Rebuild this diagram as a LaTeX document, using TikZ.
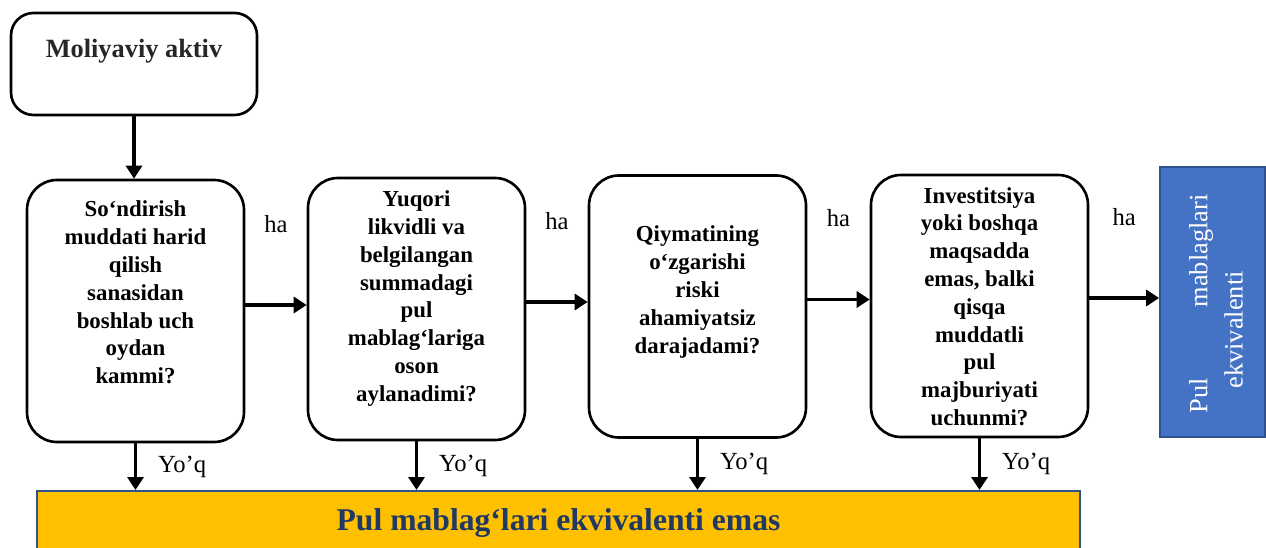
\documentclass[tikz,border=0pt]{standalone}
\usepackage{fontspec}
\setmainfont{Liberation Serif}
\usetikzlibrary{arrows.meta,positioning,calc}

\definecolor{boxblue}{HTML}{4472C4}
\definecolor{edgeblue}{HTML}{2F528F}
\definecolor{gold}{HTML}{FFC000}
\definecolor{navy}{HTML}{1F3864}

\tikzset{
    qbox/.style={draw, line width=1.5pt, rounded corners=0.6cm,
        minimum width=4.34cm, minimum height=5.24cm},
    qtext/.style={align=center, font=\fontsize{13}{15.8}\selectfont\bfseries},
    flow/.style={line width=2pt, -{Triangle[length=0.26cm,width=0.32cm]}},
    answer/.style={font=\fontsize{14}{16}\selectfont}
}

\begin{document}
\begin{tikzpicture}
    \useasboundingbox (0,0) rectangle (25.32,10.94);

    % Start box
    \node [draw, line width=1.5pt, rounded corners=0.45cm,
        minimum width=4.92cm, minimum height=2.04cm] (aktiv) at (2.68,9.66) {};
    \node [font=\fontsize{15}{18}\selectfont\bfseries, text=black!85]
        (aktivtxt) at (2.68,9.92) {Moliyaviy aktiv};

    % Questions
    \node [qbox] (q1) at (2.71,4.72) {};
    \node [qtext] (q1txt) at (2.71,5.09)
        {So‘ndirish\\muddati harid\\qilish\\sanasidan\\boshlab uch\\oydan\\kammi?};
    \node [qbox] (q2) at (8.33,4.76) {};
    \node [qtext] (q2txt) at (8.33,4.97)
        {Yuqori\\likvidli va\\belgilangan\\summadagi\\pul\\mablag‘lariga\\oson\\aylanadimi?};
    \node [qbox] (q3) at (13.95,4.81) {};
    \node [qtext] (q3txt) at (13.95,5.10)
        {Qiymatining\\o‘zgarishi\\riski\\ahamiyatsiz\\darajadami?};
    \node [qbox] (q4) at (19.59,4.82) {};
    \node [qtext] (q4txt) at (19.59,4.81)
        {Investitsiya\\yoki boshqa\\maqsadda\\emas, balki\\qisqa\\muddatli\\pul\\majburiyati\\uchunmi?};

    % Results
    \node [draw=edgeblue, line width=1pt, fill=boxblue,
        minimum width=2.1cm, minimum height=5.4cm] (pul) at (24.25,4.9) {};
    \node [rotate=90, align=left, text=white, font=\fontsize{15}{20}\selectfont]
        (pultxt) at (24.32,4.86)
        {Pul\hspace{1.42cm}mablaglari\\\hspace*{0.5cm}ekvivalenti};
    \node [draw=edgeblue, line width=1pt, fill=gold, anchor=north,
        minimum width=20.86cm, minimum height=1.3cm, text=navy,
        font=\fontsize{18}{21}\selectfont\bfseries] (emas) at (11.17,1.14)
        {Pul mablag‘lari ekvivalenti emas};

    % Arrows
    \draw [flow] (aktiv.south) -- (aktiv.south |- q1.north);
    \draw [flow] ([yshift=0.12cm]q1.east) -- ([yshift=0.12cm]q1.east -| q2.west)
        node [midway, above=1.3cm, answer] (ha1) {ha};
    \draw [flow] ([yshift=0.14cm]q2.east) -- ([yshift=0.14cm]q2.east -| q3.west)
        node [midway, above=1.3cm, answer] (ha2) {ha};
    \draw [flow] ([yshift=0.14cm]q3.east) -- ([yshift=0.14cm]q3.east -| q4.west)
        node [midway, above=1.3cm, answer] (ha3) {ha};
    \draw [flow] ([yshift=0.16cm]q4.east) -- ([yshift=0.16cm]q4.east -| pul.west)
        node [midway, above=1.3cm, answer] (ha4) {ha};
    \draw [flow] (q1.south) -- (q1.south |- emas.north)
        node [midway, right=0.3cm, answer] (yoq1) {Yo’q};
    \draw [flow] (q2.south) -- (q2.south |- emas.north)
        node [midway, right=0.3cm, answer] (yoq2) {Yo’q};
    \draw [flow] (q3.south) -- (q3.south |- emas.north)
        node [midway, right=0.3cm, answer] (yoq3) {Yo’q};
    \draw [flow] (q4.south) -- (q4.south |- emas.north)
        node [midway, right=0.3cm, answer] (yoq4) {Yo’q};
\end{tikzpicture}
\end{document}
